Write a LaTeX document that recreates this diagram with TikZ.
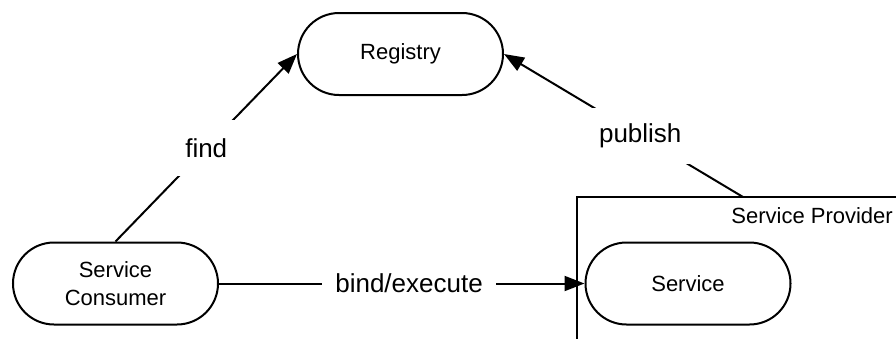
\documentclass[tikz,border=0pt]{standalone}
\usepackage{fontspec}
\setmainfont{Liberation Sans}
\usetikzlibrary{shapes.misc,arrows.meta}
\begin{document}
\begin{tikzpicture}[x=1pt,y=-1pt,
  proc/.style={rounded rectangle, draw, line width=2pt, minimum width=205pt, minimum height=82pt, font=\fontsize{22}{28}\selectfont, align=center, inner sep=0pt},
  conn/.style={line width=2pt, -{Triangle[length=20pt,width=15pt]}},
  elabel/.style={fill=white, font=\fontsize{26}{30}\selectfont, inner xsep=13pt, minimum height=56pt},
  boxline/.style={line width=2pt}]
\useasboundingbox (0,0) rectangle (896,338);
% Service Provider container (extends beyond the picture)
\coordinate (bxr) at (920,197);
\coordinate (bxc) at (577,197);
\coordinate (bxb) at (577,360);
\draw[boxline] (bxr) -- (bxc) -- (bxb);
\node[font=\fontsize{22}{28}\selectfont, anchor=base east, inner sep=0pt] (sp) at (893,223) {Service Provider};
% nodes
\node[proc] (reg) at (400.5,54) {Registry};
\node[proc] (con) at (115.5,283.5) {Service\\Consumer};
\node[proc] (svc) at (688,283.5) {Service};
% connectors
\coordinate (pub) at (743,197);
\draw[conn] (con.north) -- node[elabel, midway] {find} (reg.west);
\draw[conn] (pub) -- node[elabel, pos=0.43] {publish} (reg.east);
\draw[conn] (con.east) -- node[elabel, pos=0.52] {bind/execute} (svc.west);
\end{tikzpicture}
\end{document}
